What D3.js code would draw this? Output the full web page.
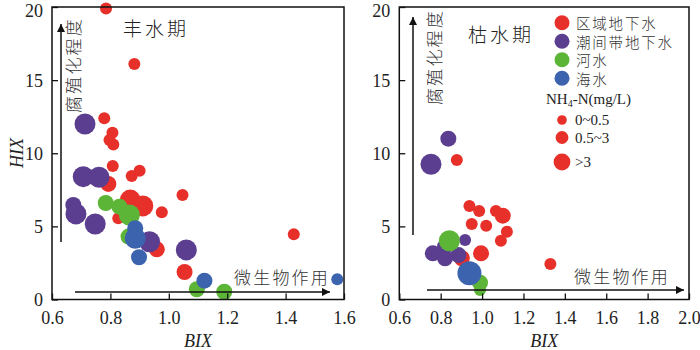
<!DOCTYPE html>
<html><head><meta charset="utf-8">
<script src="https://cdn.jsdelivr.net/npm/d3@7"></script>
<style>body{margin:0;background:#fff}</style>
</head><body><svg id="c" width="700" height="350"></svg>
<script>
// ---- Data ----
const types = ["区域地下水", "潮间带地下水", "河水", "海水"];
const typeColors = ["#e8302a", "#5b3e8f", "#5db538", "#3c63ad"];
const nh4Classes = ["0~0.5", "0.5~3", ">3"];
const nh4LegendValues = [0.3, 1.5, 5];

// 丰水期 (wet season)
const wetBIX = [0.785,0.882,0.779,0.807,0.797,0.810,0.808,0.873,0.900,0.793,1.047,0.868,0.911,0.976,0.827,0.959,1.428,1.054,
                0.713,0.707,0.761,0.673,0.682,0.748,0.934,1.060,
                0.784,0.831,0.865,0.862,1.096,1.190,
                0.885,0.885,0.898,1.122,1.577];
const wetHIX = [19.9,16.1,12.4,11.4,10.9,10.6,9.13,8.45,8.8,7.9,7.15,6.8,6.4,5.96,5.55,3.43,4.46,1.88,
                12.0,8.4,8.36,6.46,5.85,5.16,3.95,3.39,
                6.6,6.35,5.78,4.3,0.70,0.53,
                4.87,4.19,2.89,1.29,1.38];
const wetType = [0,0,0,0,0,0,0,0,0,0,0,0,0,0,0,0,0,0,
                 1,1,1,1,1,1,1,1,
                 2,2,2,2,2,2,
                 3,3,3,3,3];
const wetNH4 = [0.3,0.3,0.3,0.3,0.3,0.3,0.3,0.3,0.3,1.5,0.3,5,5,0.3,0.3,1.5,0.3,1.5,
                5,5,5,1.5,5,5,5,5,
                1.5,1.5,5,1.5,1.5,1.5,
                1.5,5,1.5,1.5,0.3];

// 枯水期 (dry season)
const dryBIX = [0.878,0.939,0.986,1.067,1.100,0.950,1.020,1.120,1.091,0.902,0.995,1.330,
                0.753,0.837,0.918,0.821,0.762,0.821,0.886,
                0.842,0.990,0.990,
                0.939];
const dryHIX = [9.54,6.4,6.05,6.05,5.73,5.16,5.05,4.64,4.02,2.82,3.16,2.43,
                9.25,11.0,4.07,3.61,3.16,2.82,3.04,
                4.02,1.15,0.65,
                1.79];
const dryType = [0,0,0,0,0,0,0,0,0,0,0,0,
                 1,1,1,1,1,1,1,
                 2,2,2,
                 3];
const dryNH4 = [0.3,0.3,0.3,0.3,1.5,0.3,0.3,0.3,0.3,1.5,1.5,0.3,
                5,1.5,0.3,1.5,1.5,1.5,1.5,
                5,1.5,0.3,
                8];

const yTicks = [0,5,10,15,20];
const wetXTicks = [0.6,0.8,1.0,1.2,1.4,1.6];
const dryXTicks = [0.6,0.8,1.0,1.2,1.4,1.6,1.8,2.0];

// ---- Drawing ----
const svg = d3.select("#c");
const serif = "'Liberation Serif', 'Times New Roman', Times, serif";
const cjk = "'Noto Sans CJK SC', 'Noto Sans CJK JP', sans-serif";
const r = d3.scaleThreshold().domain([0.5, 3, 6]).range([6, 8, 10.5, 12]);
const color = d3.scaleOrdinal().domain(d3.range(types.length)).range(typeColors);

svg.append("defs").append("marker")
  .attr("id","arr").attr("viewBox","0 0 10 10").attr("refX",10).attr("refY",5)
  .attr("markerWidth",14).attr("markerHeight",8).attr("markerUnits","userSpaceOnUse")
  .attr("orient","auto")
  .append("path").attr("d","M0,0 L10,5 L0,10 Z").attr("fill","#111");

function panel(cfg) {
  const x = d3.scaleLinear().domain(cfg.xDomain).range([cfg.x0, cfg.x1]);
  const y = d3.scaleLinear().domain([0,20]).range([299.5, 7]);
  const g = svg.append("g");

  const pts = cfg.bix.map((b,i)=>({b, h:cfg.hix[i], t:cfg.type[i], n:cfg.nh4[i]}));
  g.selectAll("circle.pt").data(pts).join("circle").attr("class","pt")
    .attr("cx", d=>x(d.b)).attr("cy", d=>y(d.h)).attr("r", d=>r(d.n))
    .attr("fill", d=>color(d.t));

  const ax = g.append("g").attr("transform",`translate(0,${y(0)})`)
    .call(d3.axisBottom(x).tickValues(cfg.xTicks).tickFormat(d3.format(".1f")).tickSizeInner(-6).tickSizeOuter(0).tickPadding(12));
  const ay = g.append("g").attr("transform",`translate(${cfg.x0},0)`)
    .call(d3.axisLeft(y).tickValues(yTicks).tickFormat(d3.format("d")).tickSizeInner(-6).tickSizeOuter(0).tickPadding(9));
  [ax, ay].forEach(a=>{
    a.attr("font-family", null).attr("font-size", null);
    a.select(".domain").remove();
    a.selectAll("line").attr("stroke","#111").attr("stroke-width",1.3);
    a.selectAll("text").style("font-family",serif).style("font-size","18px").attr("fill","#222");
  });
  ay.selectAll("text").attr("dy","0.35em");
  ay.selectAll(".tick").filter(d=>d===20).select("text").attr("dy","0.5em");

  g.append("rect").attr("x",cfg.x0).attr("y",y(20)).attr("width",cfg.x1-cfg.x0).attr("height",y(0)-y(20))
    .attr("fill","none").attr("stroke","#111").attr("stroke-width",1.5);

  g.append("text").attr("x",(cfg.x0+cfg.x1)/2).attr("y",347).attr("text-anchor","middle")
    .style("font-family",serif).style("font-style","italic").style("font-size","18px").attr("fill","#222").text("BIX");

  g.append("line").attr("x1",cfg.vx).attr("x2",cfg.vx).attr("y1",cfg.vy0).attr("y2",cfg.vy1)
    .attr("stroke","#111").attr("stroke-width",1.5).attr("marker-end","url(#arr)");
  g.append("line").attr("x1",cfg.hx0).attr("x2",cfg.hx1).attr("y1",cfg.hy).attr("y2",cfg.hy)
    .attr("stroke","#111").attr("stroke-width",1.5).attr("marker-end","url(#arr)");

  g.append("text").attr("transform",`translate(${cfg.vtx},${cfg.vty}) rotate(-90)`)
    .attr("text-anchor","end").attr("dominant-baseline","central")
    .style("font-family",cjk).style("font-weight",300).style("font-size","17px").attr("letter-spacing",2.2)
    .attr("fill","#333").text("腐殖化程度");
  g.append("text").attr("x",cfg.htx).attr("y",cfg.hty).attr("text-anchor","end").attr("dominant-baseline","central")
    .style("font-family",cjk).style("font-weight",300).style("font-size","17px").attr("letter-spacing",2.2)
    .attr("fill","#333").text("微生物作用");

  g.append("text").attr("x",cfg.tx).attr("y",cfg.ty).attr("dominant-baseline","central")
    .style("font-family",cjk).style("font-weight",300).style("font-size","19px").attr("letter-spacing",3)
    .attr("fill","#222").text(cfg.title);
  return {x,y,g};
}

panel({xDomain:[0.6,1.6], x0:52, x1:344, xTicks:wetXTicks, bix:wetBIX, hix:wetHIX, type:wetType, nh4:wetNH4,
  vx:61, vy0:242, vy1:24, hx0:75, hx1:330, hy:292,
  vtx:72, vty:17, htx:330, hty:276, tx:123, ty:27, title:"丰水期"});
panel({xDomain:[0.6,2.0], x0:399.3, x1:689, xTicks:dryXTicks, bix:dryBIX, hix:dryHIX, type:dryType, nh4:dryNH4,
  vx:413, vy0:235, vy1:17, hx0:427, hx1:684, hy:290,
  vtx:433, vty:9, htx:670, hty:275, tx:468, ty:33, title:"枯水期"});

svg.append("text").attr("transform","translate(17,153) rotate(-90)").attr("text-anchor","middle")
  .attr("dominant-baseline","central").style("font-family",serif).style("font-style","italic")
  .style("font-size","18px").attr("fill","#222").text("HIX");

// Legend
const lg = svg.append("g");
types.forEach((t,i)=>{
  const cy = 22.7 + i*18.5;
  lg.append("circle").attr("cx",562).attr("cy",cy).attr("r",7.5).attr("fill",typeColors[i]);
  lg.append("text").attr("x",576).attr("y",cy).attr("dominant-baseline","central")
    .style("font-family",cjk).style("font-weight",300).style("font-size","14.5px").attr("letter-spacing",1.8)
    .attr("fill","#333").text(t);
});
const nh = lg.append("text").attr("x",546).attr("y",99).attr("dominant-baseline","central")
  .style("font-family",serif).style("font-size","15px").attr("fill","#222");
nh.append("tspan").text("NH");
nh.append("tspan").style("font-size","10px").attr("dy",4).text("4");
nh.append("tspan").attr("dy",-4).text("-N(mg/L)");
nh4Classes.forEach((c,i)=>{
  const cy = [120,137.5,162][i];
  lg.append("circle").attr("cx",562).attr("cy",cy).attr("r",r(nh4LegendValues[i])*0.8).attr("fill",typeColors[0]);
  lg.append("text").attr("x",575).attr("y",cy).attr("dominant-baseline","central")
    .style("font-family",serif).style("font-size","15px").attr("fill","#222").text(c);
});
</script></body></html>
